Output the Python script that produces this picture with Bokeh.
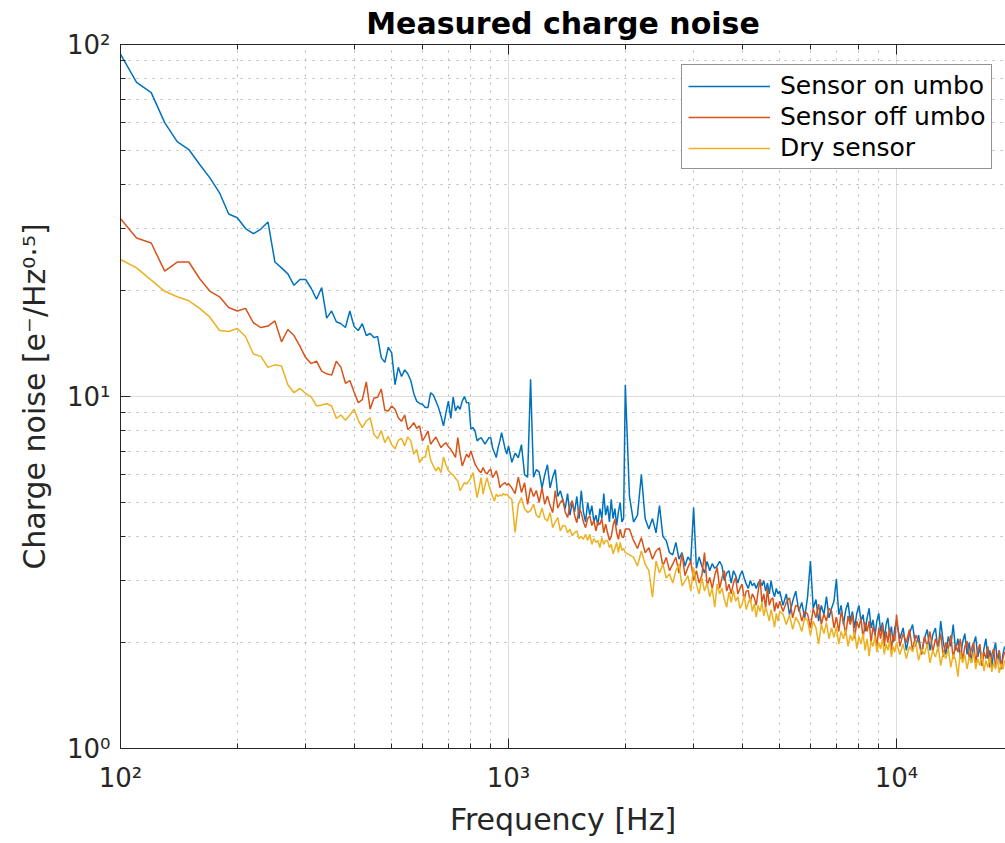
from bokeh.plotting import figure
from bokeh.models import LogAxis, Legend, LegendItem, ColumnDataSource
from bokeh.embed import file_html
from bokeh.resources import INLINE

# Frequency grid (Hz) of the plotted spectra
f_low = list(range(100, 1001, 10))
f_mid1 = list(range(1020, 2001, 20))
f_mid2 = list(range(2050, 5001, 50))
f_hi1 = list(range(5100, 10001, 100))
f_hi2 = list(range(10200, 19001, 200))

# Sensor on umbo (e-/Hz^0.5)
on_low = [93.9, 78, 73, 60, 53, 50.3, 45.6, 41.8, 37.9, 33,
          32.2, 30, 29, 29.9, 31.3, 24.1, 23.2, 22.3, 20.7, 21.5,
          21.5, 20.3, 18.9, 20.4, 16.7, 17.5, 16.3, 16.1, 15.7, 17.5,
          15.8, 15.4, 16.1, 14.9, 15.1, 14.7, 14.8, 12.9, 12.5, 13.8,
          13.3, 10.8, 12.1, 11.4, 11.9, 11.6, 11.1, 10.2, 9.7, 9.55,
          9.5, 9.3, 9.3, 10.25, 10.1, 9.7, 9.3, 8.8, 8.25, 9.0,
          9.7, 8.67, 9.97, 9.1, 9.4, 9.2, 9.7, 10.0, 9.6, 9.6,
          8.07, 8.16, 7.98, 7.48, 7.58, 7.64, 7.48, 7.32, 7.48, 7.63,
          7.64, 7.14, 6.92, 6.71, 7.16, 7.48, 7.89, 7.48, 7.1, 6.86,
          7.24]
on_mid1 = [6.5, 6.9, 6.7, 7.3, 6.0, 5.9, 11.2, 5.9, 6.2, 6.1,
           5.5, 6.0, 6.4, 5.5, 5.9, 6.2, 5.2, 5.4, 5.1, 4.8,
           5.3, 4.6, 5.0, 4.7, 5.2, 4.5, 5.4, 4.7, 4.4, 5.0,
           4.6, 4.9, 4.4, 4.6, 4.3, 4.8, 4.5, 5.3, 4.6, 4.9,
           4.4, 5.1, 4.5, 4.8, 4.3, 4.7, 5.0, 4.4, 4.5, 10.8]
on_mid2 = [5.2, 4.4, 4.6, 6.0, 4.5, 4.2, 4.5, 4.1, 4.9, 4.0,
           3.9, 3.6, 3.55, 3.85, 3.45, 3.6, 3.3, 3.5, 3.4, 4.84,
           3.25, 3.5, 3.3, 3.15, 3.4, 3.2, 3.35, 3.25, 3.3, 3.4,
           3.3, 3.0, 3.15, 3.2, 2.95, 3.2, 3.1, 2.95, 3.1, 3.2,
           3.05, 2.93, 2.85, 3.0, 2.9, 2.95, 2.85, 2.95, 3.0, 2.9,
           3.0, 2.8, 2.95, 2.75, 3.0, 2.8, 2.7, 2.85, 2.75, 2.8]
on_hi1 = [2.55, 2.75, 2.4, 2.62, 2.8, 2.45, 2.6, 2.35, 2.7, 3.41,
          2.5, 2.65, 2.3, 2.55, 2.4, 2.7, 2.35, 2.5, 2.62, 3.03,
          2.4, 2.55, 2.25, 2.48, 2.6, 2.3, 2.45, 2.2, 2.42, 2.55,
          2.3, 2.4, 2.15, 2.35, 2.5, 2.2, 2.32, 2.1, 2.3, 2.42,
          2.15, 2.28, 2.05, 2.25, 2.35, 2.1, 2.22, 2.0, 2.2, 2.3]
on_hi2 = [2.05, 2.2, 1.9, 2.12, 2.25, 1.95, 2.1, 1.85, 2.05, 2.18,
          1.9, 2.1, 2.2, 1.88, 2.3, 2.0, 1.85, 2.08, 1.95, 2.25,
          1.9, 2.05, 1.8, 2.0, 2.12, 1.85, 2.0, 1.75, 1.98, 2.08,
          1.82, 1.95, 1.72, 1.92, 2.05, 1.8, 1.9, 1.7, 1.88, 2.0,
          1.75, 1.9, 1.68, 1.85, 1.95]

# Sensor off umbo
off_low = [32.0, 28.2, 27.3, 22.7, 24.1, 24.1, 21.6, 19.9, 19.2, 17.9,
           17.5, 17.8, 16.2, 15.7, 15.85, 16.4, 14.3, 15.5, 14.9, 13.9,
           12.9, 12.4, 12.6, 11.8, 11.6, 11.5, 12.6, 12.1, 10.9, 11.1,
           10.3, 9.6, 9.8, 11.0, 9.2, 9.9, 9.95, 10.5, 9.14, 9.1,
           9.4, 9.2, 8.7, 8.5, 8.86, 8.06, 8.2, 8.43, 8.12, 8.25,
           7.48, 7.7, 7.98, 7.32, 7.5, 7.67, 7.4, 7.16, 7.3, 7.39,
           7.2, 7.08, 6.9, 6.71, 7.64, 6.9, 6.35, 6.6, 6.86, 6.71,
           7.0, 6.7, 6.42, 6.28, 6.15, 6.08, 6.28, 6.1, 6.02, 6.15,
           6.22, 5.88, 6.0, 6.15, 5.9, 5.51, 5.6, 5.65, 5.69, 5.6,
           5.66]
off_mid1 = [5.5, 5.3, 5.9, 5.34, 5.69, 4.94, 5.51, 5.2, 5.4, 5.0,
            5.5, 4.94, 5.22, 4.9, 4.68, 5.4, 4.82, 5.0, 5.1, 4.7,
            4.53, 4.9, 5.06, 4.6, 4.38, 4.8, 4.68, 4.4, 4.24, 4.5,
            4.58, 4.3, 4.45, 4.15, 4.4, 4.33, 4.5, 4.1, 4.34, 4.1,
            3.9, 4.0, 4.3, 4.48, 4.1, 3.93, 4.2, 4.0, 3.97, 4.2]
off_mid2 = [4.2, 3.9, 3.7, 3.97, 3.6, 3.72, 3.45, 3.64, 3.72, 3.3,
            3.49, 3.2, 3.34, 3.49, 3.15, 3.57, 3.1, 3.27, 3.41, 3.0,
            3.2, 2.95, 3.1, 3.6, 2.9, 3.06, 2.85, 3.1, 3.27, 2.85,
            3.05, 3.2, 2.8, 2.93, 2.75, 2.95, 3.06, 2.75, 2.85, 2.93,
            2.65, 2.8, 2.81, 2.6, 2.75, 2.68, 2.55, 2.8, 3.03, 2.6,
            2.75, 2.5, 2.86, 2.55, 2.65, 2.68, 2.45, 2.6, 2.5, 2.62]
off_hi1 = [2.45, 2.6, 2.68, 2.35, 2.55, 2.52, 2.3, 2.45, 2.41, 2.2,
           2.5, 2.35, 2.57, 2.25, 2.41, 2.3, 2.5, 2.46, 2.2, 2.36,
           2.15, 2.45, 2.3, 2.1, 2.38, 2.25, 2.4, 2.05, 2.3, 2.2,
           2.35, 2.05, 2.28, 2.15, 2.3, 2.0, 2.22, 2.12, 1.95, 2.2,
           2.05, 2.25, 1.95, 2.15, 2.0, 2.2, 1.9, 2.1, 2.02, 2.4]
off_hi2 = [1.95, 2.12, 2.0, 2.18, 1.9, 2.1, 2.02, 1.85, 2.08, 1.95,
           2.15, 1.88, 2.05, 1.95, 2.12, 1.82, 2.0, 1.92, 2.1, 1.8,
           1.98, 1.88, 2.05, 1.78, 1.95, 2.02, 1.8, 1.92, 2.0, 1.75,
           1.9, 1.98, 1.72, 1.88, 1.8, 1.95, 1.7, 1.85, 1.92, 1.7,
           1.82, 1.9, 1.68, 1.8, 1.88]

# Dry sensor
dry_low = [24.5, 23.2, 21.4, 19.9, 19.2, 18.7, 17.8, 16.8, 15.4, 15.3,
           15.6, 14.8, 13.2, 13.0, 12.1, 12.3, 12.2, 10.8, 10.25, 10.55,
           10.2, 9.97, 9.4, 9.46, 9.54, 9.4, 8.67, 8.86, 8.56, 8.86,
           9.2, 8.56, 8.16, 8.52, 8.7, 7.8, 7.6, 8.0, 7.4, 7.7,
           7.3, 7.1, 7.5, 7.6, 7.24, 7.68, 7.48, 6.86, 7.08, 6.49,
           6.7, 6.73, 7.27, 6.6, 6.35, 6.15, 6.3, 6.08, 6.73, 6.4,
           6.15, 6.05, 5.99, 5.85, 5.76, 5.4, 5.55, 5.69, 5.64, 5.75,
           5.88, 6.08, 5.6, 5.16, 5.5, 5.88, 5.28, 5.6, 5.88, 5.6,
           5.4, 5.2, 5.05, 5.28, 5.2, 5.25, 5.22, 5.3, 5.25, 5.28,
           5.2]
dry_mid1 = [5.1, 4.11, 4.94, 5.16, 4.8, 4.68, 4.74, 4.94, 4.6, 4.53,
            4.82, 4.5, 4.43, 4.68, 4.24, 4.4, 4.53, 4.15, 4.3, 4.29,
            4.1, 4.2, 4.02, 4.1, 4.15, 3.95, 4.0, 3.93, 4.06, 3.9,
            4.06, 3.8, 3.95, 3.85, 3.9, 3.72, 3.97, 3.8, 3.9, 3.89,
            3.72, 3.8, 3.57, 3.7, 3.85, 3.6, 3.85, 3.65, 3.7, 3.6]
dry_mid2 = [3.55, 3.49, 3.3, 3.64, 3.34, 3.2, 2.69, 3.41, 3.15, 3.34,
            3.05, 3.13, 2.95, 3.2, 3.34, 2.9, 2.99, 3.1, 2.8, 3.27,
            2.93, 2.75, 3.06, 2.8, 2.95, 2.7, 2.85, 2.52, 2.93, 2.75,
            2.85, 2.65, 2.52, 2.78, 2.6, 2.81, 2.62, 2.7, 2.5, 2.57,
            2.72, 2.48, 2.6, 2.68, 2.45, 2.58, 2.36, 2.55, 2.45, 2.6,
            2.38, 2.52, 2.42, 2.3, 2.48, 2.35, 2.21, 2.42, 2.3, 2.45]
dry_hi1 = [2.41, 2.25, 2.4, 2.18, 2.36, 2.28, 2.15, 2.35, 2.31, 2.1,
           2.3, 2.2, 1.98, 2.25, 2.12, 2.28, 2.05, 2.2, 2.07, 2.22,
           1.98, 2.15, 2.05, 2.18, 1.95, 2.1, 2.02, 2.15, 1.92, 2.08,
           1.98, 2.12, 1.9, 2.05, 1.83, 2.02, 1.95, 2.08, 1.88, 2.0,
           1.92, 2.05, 1.85, 1.98, 1.9, 2.02, 1.82, 1.95, 1.88, 2.0]
dry_hi2 = [1.85, 1.98, 1.8, 1.95, 1.88, 2.02, 1.78, 1.92, 1.85, 1.98,
           1.75, 1.9, 1.82, 1.95, 1.72, 1.88, 1.8, 1.92, 1.7, 1.85,
           1.78, 1.6, 1.88, 1.75, 1.85, 1.68, 1.82, 1.75, 1.88, 1.68,
           1.8, 1.72, 1.85, 1.66, 1.78, 1.7, 1.82, 1.65, 1.75, 1.68,
           1.8, 1.64, 1.74, 1.68, 1.78]

labels = ["Sensor on umbo", "Sensor off umbo", "Dry sensor"]
colors = ["#0072BD", "#D95319", "#EDB120"]

freq = f_low + f_mid1 + f_mid2 + f_hi1 + f_hi2
series = [
    on_low + on_mid1 + on_mid2 + on_hi1 + on_hi2,
    off_low + off_mid1 + off_mid2 + off_hi1 + off_hi2,
    dry_low + dry_mid1 + dry_mid2 + dry_hi1 + dry_hi2,
]
for s in series:
    assert len(s) == len(freq), (len(s), len(freq))

FONT = "DejaVu Sans"
AX = "#262626"

p = figure(width=1005, height=843, x_axis_type="log", y_axis_type="log",
           x_range=(100, 19095), y_range=(1, 100),
           output_backend="svg", toolbar_location=None,
           min_border_left=120, min_border_right=0,
           min_border_top=43, min_border_bottom=95)
p.outline_line_color = None
p.background_fill_color = "white"
p.border_fill_color = "white"

p.title.text = "Measured charge noise"
p.title.align = "center"
p.title.text_font = FONT
p.title.text_font_style = "bold"
p.title.text_font_size = "30px"
p.title.text_color = "black"
p.title.standoff = 7

renderers = []
for s, c in zip(series, colors):
    src = ColumnDataSource(dict(f=freq, v=s))
    r = p.line("f", "v", source=src, line_color=c, line_width=1.5)
    renderers.append(r)

def style_axis(ax):
    ax.axis_line_color = AX
    ax.axis_line_width = 1
    ax.major_tick_line_color = AX
    ax.minor_tick_line_color = AX
    ax.major_tick_in = 10
    ax.major_tick_out = 0
    ax.minor_tick_in = 5
    ax.minor_tick_out = 0
    ax.major_label_text_font = FONT
    ax.major_label_text_font_size = "26px"
    ax.major_label_text_color = AX
    ax.axis_label_text_font = FONT
    ax.axis_label_text_font_size = "30px"
    ax.axis_label_text_font_style = "normal"
    ax.axis_label_text_color = AX

xa = p.xaxis[0]
ya = p.yaxis[0]
style_axis(xa)
style_axis(ya)
xa.axis_label = "Frequency [Hz]"
ya.axis_label = "Charge noise [e\u207b/Hz\u2070\u00b7\u2075]"
xa.major_label_overrides = {100.0: "10\u00b2", 1000.0: "10\u00b3", 10000.0: "10\u2074"}
ya.major_label_overrides = {1.0: "10\u2070", 10.0: "10\u00b9", 100.0: "10\u00b2"}
xa.major_label_standoff = 14
xa.axis_label_standoff = 6
ya.major_label_standoff = 10
ya.axis_label_standoff = 12

top = LogAxis()
style_axis(top)
top.major_label_text_font_size = "2px"
top.major_label_text_alpha = 0.0
top.major_label_standoff = 0
p.add_layout(top, "above")

for g in (p.xgrid, p.ygrid):
    g.grid_line_color = "#dcdcdc"
    g.grid_line_width = 1
    g.minor_grid_line_color = "#b4b4b4"
    g.minor_grid_line_width = 1
    g.minor_grid_line_dash = "2 6"

legend = Legend(items=[LegendItem(label=l, renderers=[r]) for l, r in zip(labels, renderers)],
                location=(561, 579))
legend.border_line_color = AX
legend.border_line_width = 1
legend.background_fill_color = "white"
legend.background_fill_alpha = 1.0
legend.label_text_font = FONT
legend.label_text_font_size = "25px"
legend.label_text_color = "black"
legend.glyph_width = 82
legend.glyph_height = 26
legend.label_height = 26
legend.label_standoff = 10
legend.spacing = 2
legend.padding = 6
legend.margin = 0
p.add_layout(legend)

open("out.html", "w").write(file_html(p, INLINE))
